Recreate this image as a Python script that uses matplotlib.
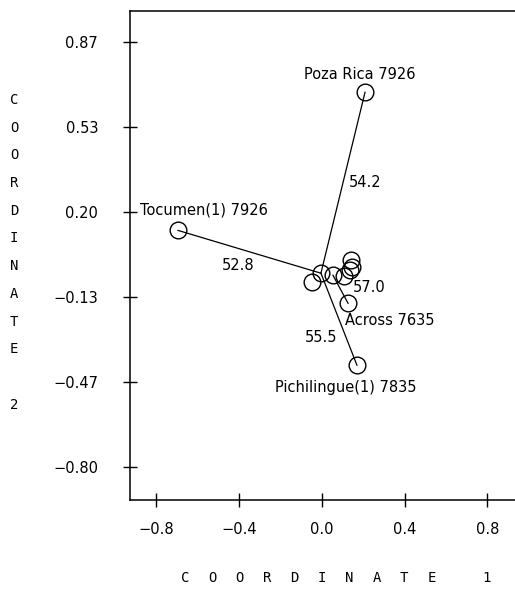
import numpy as np
import matplotlib
matplotlib.use("Agg")
import matplotlib.pyplot as plt

# ==========================================================
# Data
# ==========================================================

station_x = [0.208, -0.696, 0.169, 0.126,
             -0.048, -0.005, 0.053, 0.106, 0.135, 0.140, 0.145]
station_y = [0.671, 0.129, -0.400, -0.157,
             -0.075, -0.039, -0.047, -0.051, -0.027, 0.012, -0.016]

# labelled stations: index, text
label_idx = [0, 1, 3, 2]
label_text = ["Poza Rica 7926", "Tocumen(1) 7926", "Across 7635",
              "Pichilingue(1) 7835"]

# links: from, to, distance
edge_from = [1, 0, 2, 3]
edge_to = [5, 5, 5, 6]
edge_dist = [52.8, 54.2, 55.5, 57.0]

yticks = [0.867, 0.533, 0.200, -0.133, -0.467, -0.800]
ytick_labels = ["0.87", "0.53", "0.20", "\u22120.13", "\u22120.47", "\u22120.80"]
xticks = [-0.8, -0.4, 0.0, 0.4, 0.8]
xtick_labels = ["\u22120.8", "\u22120.4", "0.0", "0.4", "0.8"]

# ==========================================================
# Figure
# ==========================================================

plt.rcParams["font.family"] = ["DejaVu Sans"]

fig = plt.figure(figsize=(5.15, 5.92), dpi=100)
ax = fig.add_axes([130 / 515, 1 - 500 / 592, 385 / 515, 489 / 592])

ax.set_xlim(-0.928, 0.933)
ax.set_ylim(-0.929, 0.99)

for a, b in zip(edge_from, edge_to):
    ax.plot([station_x[a], station_x[b]], [station_y[a], station_y[b]],
            color="black", lw=0.9, zorder=2)

ax.plot(station_x, station_y, "o", ms=12, mfc="none", mec="black",
        mew=1.0, zorder=3)

# station labels (offsets in points)
label_off = [(-4, 13, "center"), (19, 15, "center"),
             (-2, -12.5, "left"), (-8, -16, "center")]
for i, txt, (dx, dy, ha) in zip(label_idx, label_text, label_off):
    ax.annotate(txt, (station_x[i], station_y[i]), xytext=(dx, dy),
                textcoords="offset points", ha=ha, va="center",
                fontsize=10.5)

# distance labels near link midpoints
dist_off = [(-8, -10), (16, 0), (-13, -13), (21, 1)]
for a, b, d, (dx, dy) in zip(edge_from, edge_to, edge_dist, dist_off):
    mx = (station_x[a] + station_x[b]) / 2
    my = (station_y[a] + station_y[b]) / 2
    ax.annotate(f"{d:.1f}", (mx, my), xytext=(dx, dy),
                textcoords="offset points", ha="center", va="center",
                fontsize=10.5)

ax.set_xticks(xticks)
ax.set_xticklabels(xtick_labels)
ax.set_yticks(yticks)
ax.set_yticklabels(ytick_labels)
ax.tick_params(direction="inout", length=10, width=1.0,
               labelsize=10.5, pad=11)
ax.tick_params(axis="y", pad=18)

ax.spines["right"].set_visible(False)
for s in ["left", "bottom", "top"]:
    ax.spines[s].set_linewidth(1.1)

# ----------------------------------------------------------
# Spaced-out axis titles
# ----------------------------------------------------------

ylab = list("COORDINATE") + ["", "2"]
for k, ch in enumerate(ylab):
    fig.text(14 / 515, 1 - (100 + 27.7 * k) / 592, ch, ha="center",
             va="center", fontsize=10, family="DejaVu Sans Mono")

xlab = list("COORDINATE") + ["", "1"]
for k, ch in enumerate(xlab):
    fig.text((185 + 27.4 * k) / 515, 1 - 578 / 592, ch, ha="center",
             va="center", fontsize=10, family="DejaVu Sans Mono")

fig.savefig("out.png", dpi=100)
